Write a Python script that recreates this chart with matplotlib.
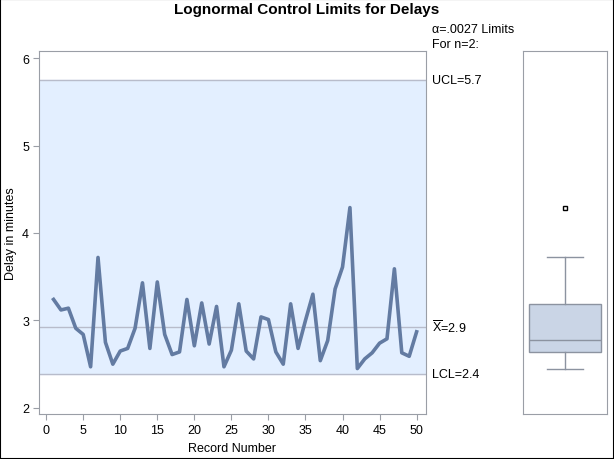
import numpy as np
import matplotlib.pyplot as plt
from matplotlib.patches import Rectangle

plt.rcParams['font.family'] = ['Liberation Sans', 'DejaVu Sans']
plt.rcParams['mathtext.fontset'] = 'custom'
plt.rcParams['mathtext.rm'] = 'Liberation Sans'

# data
record = np.arange(1, 51)
delay = [3.24, 3.12, 3.14, 2.91, 2.84, 2.47, 3.72, 2.75, 2.50, 2.65,
         2.68, 2.91, 3.43, 2.68, 3.44, 2.84, 2.61, 2.64, 3.24, 2.71,
         3.20, 2.73, 3.16, 2.47, 2.66, 3.19, 2.65, 2.56, 3.04, 3.01,
         2.64, 2.50, 3.19, 2.68, 3.00, 3.30, 2.54, 2.77, 3.36, 3.61,
         4.29, 2.45, 2.56, 2.63, 2.74, 2.79, 3.59, 2.63, 2.59, 2.87]
ucl = 5.75
mean = 2.925
lcl = 2.385

frame_col = '#9a9ea6'
line_col = '#637ba2'
limit_col = '#b8bccb'

fig = plt.figure(figsize=(6.14, 4.6), dpi=100)
fig.patches.append(Rectangle((0, 0), 1, 1, transform=fig.transFigure,
                             fill=False, edgecolor='black', linewidth=1.5))

ax = fig.add_axes([0.0643, 0.0978, 0.6287, 0.789])
ax.axhspan(lcl, ucl, color='#e3efff', zorder=0)
for v in (ucl, mean, lcl):
    ax.axhline(v, color=limit_col, linewidth=1, zorder=1)
ax.plot(record, delay, color=line_col, linewidth=2.6, zorder=2)
ax.set_xlim(-0.9, 51.2)
ax.set_ylim(1.93, 6.08)
ax.set_xticks(range(0, 51, 5))
ax.set_yticks(range(2, 7))
ax.set_xlabel('Record Number', fontsize=9)
ax.set_ylabel('Delay in minutes', fontsize=9)
ax.tick_params(labelsize=9, color=frame_col, length=4)
for s in ax.spines.values():
    s.set_color(frame_col)

trans = ax.get_yaxis_transform()
ax.text(1.018, ucl, 'UCL=5.7', transform=trans, va='center', fontsize=9)
ax.text(1.018, mean, r'$\overline{\mathrm{X}}$=2.9', transform=trans, va='center', fontsize=9)
ax.text(1.018, lcl, 'LCL=2.4', transform=trans, va='center', fontsize=9)

fig.text(0.703, 0.934, '\u03b1=.0027 Limits', fontsize=9, va='center')
fig.text(0.703, 0.902, 'For n=2:', fontsize=9, va='center')
fig.text(0.5, 0.978, 'Lognormal Control Limits for Delays', fontsize=11,
         fontweight='bold', ha='center', va='center')

bx = fig.add_axes([0.8518, 0.0978, 0.1368, 0.789])
bx.boxplot(delay, widths=0.86, patch_artist=True,
           boxprops=dict(facecolor='#cad5e6', edgecolor='#8c93a0'),
           medianprops=dict(color='#8c93a0'),
           whiskerprops=dict(color='#8c93a0'),
           capprops=dict(color='#8c93a0'),
           flierprops=dict(marker='s', markersize=3, markerfacecolor='white',
                           markeredgecolor='black', markeredgewidth=1))
bx.set_xlim(0.5, 1.5)
bx.set_ylim(1.93, 6.08)
bx.set_xticks([])
bx.set_yticks([])
for s in bx.spines.values():
    s.set_color(frame_col)

fig.savefig('out.png', dpi=100)
